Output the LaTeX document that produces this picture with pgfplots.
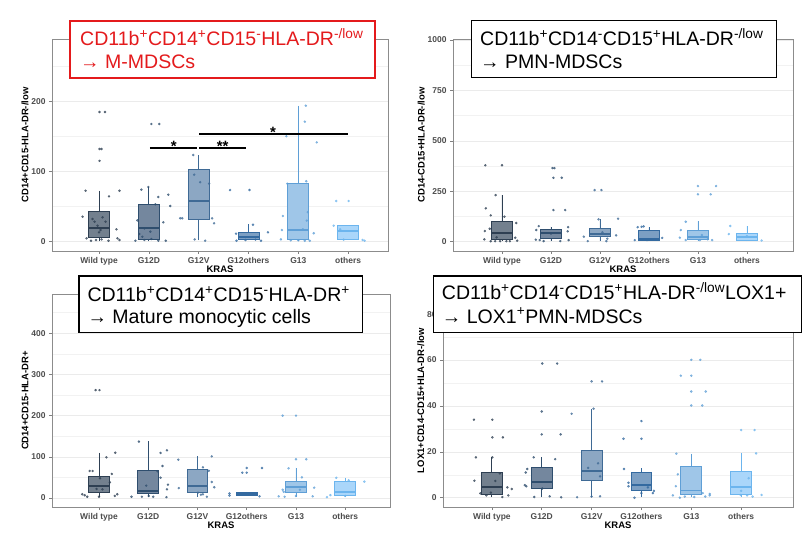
\documentclass[border=0pt]{standalone}
\usepackage{fontspec}
\setmainfont{Liberation Sans}
\usepackage{pgfplots}
\pgfplotsset{compat=1.18}
\usepgfplotslibrary{statistics}
\definecolor{L0}{HTML}{2E3F52}\definecolor{F0}{HTML}{73808E}
\definecolor{L1}{HTML}{2F4E6E}\definecolor{F1}{HTML}{74879E}
\definecolor{L2}{HTML}{3F6A95}\definecolor{F2}{HTML}{8CA7C3}
\definecolor{L3}{HTML}{346AA0}\definecolor{F3}{HTML}{7C9FC3}
\definecolor{L4}{HTML}{5F9FD6}\definecolor{F4}{HTML}{9FC6E8}
\definecolor{L5}{HTML}{6CB5EE}\definecolor{F5}{HTML}{AAD6FA}
\definecolor{tred}{HTML}{E41A1C}
\newcommand{\bx}[7]{%
 \addplot[draw=L#2, fill=F#2, line width=0.9bp, boxplot prepared={draw direction=y, draw position=#1, lower whisker=#3, lower quartile=#4, median=#5, upper quartile=#6, upper whisker=#7, box extend=0.42, whisker extend=0}] coordinates {};}
\newcommand{\pts}[2]{\addplot[only marks, mark=*, mark size=1.05bp, color=L#1, opacity=0.7] coordinates {#2};}
\newcommand{\sps}[1]{\textsuperscript{#1}}
\pgfplotsset{
 boxplot/every median/.style={line width=1.8bp},
 panel/.style={
  scale only axis, anchor=south west,
  axis line style={draw=black!45, line width=0.7bp},
  xtick={0,...,5}, xticklabels={Wild type,G12D,G12V,G12others,G13,others},
  tick style={draw=black!50, line width=0.6bp},
  major tick length=3bp, minor tick length=0pt, tick align=outside,
  xtick pos=left, ytick pos=left,
  ymajorgrids, yminorgrids,
  major grid style={draw=black!8, line width=0.6bp},
  minor grid style={draw=black!5, line width=0.5bp},
  ticklabel style={font=\bfseries\fontsize{8.5}{10}\selectfont, text=black!70},
  label style={font=\bfseries\fontsize{9.5}{10}\selectfont},
  xlabel={KRAS},
  xlabel style={yshift=6bp},
  ylabel style={yshift=-4bp},
  /pgf/number format/assume math mode=true,
  /pgf/number format/1000 sep={},
 }}
\begin{document}
\begin{tikzpicture}
% Panel 1
\begin{axis}[panel, at={(52bp,283bp)}, width=336bp, height=212bp,
 xmin=-0.944, xmax=5.80, ymin=-13.2, ymax=288.3,
 ytick={0,100,200}, minor ytick={50,150,250},
 ylabel={CD14+CD15-HLA-DR-/low}]
\bx{0}{0}{0.5}{5.7}{20}{42.7}{72.5}
\bx{1}{1}{0.5}{3.8}{19}{53.6}{77.8}
\bx{2}{2}{2}{31.3}{57.9}{102.4}{122.9}
\bx{3}{3}{2}{3.4}{6.3}{13.3}{24.7}
\bx{4}{4}{1.5}{3.4}{17}{83}{193.5}
\bx{5}{5}{3.4}{3.4}{14.8}{23.3}{23.3}
\pts{0}{(0.01,184.5)(0.12,184.5)(0.01,131.9)(0.05,131.9)(0.01,115)(-0.27,72.5)(0.41,72.5)(0.2,64.5)(-0.33,35.6)(-0.13,32.3)(-0.09,28.5)(0.07,34.7)(0.13,28.5)(-0.03,22.8)(0.03,16.6)(0,13.3)(0.35,17.6)(-0.25,4.8)(-0.16,1.4)(-0.06,2.4)(0.05,3.3)(0.19,1.4)(0.37,4.8)(0.41,2.4)}
\pts{1}{(1.05,167.4)(1.21,167.4)(0.85,74)(0.99,77.8)(1.19,63.6)(1.39,66.9)(1.13,53.2)(1.43,50.8)(1.29,27.6)(0.77,30.3)(0.91,19)(0.81,11)(0.87,7.1)(1.05,3.8)(0.73,1.4)(0.91,2.4)(1.19,1.4)(1.34,1.4)(1.03,14.3)}
\pts{2}{(1.89,123.3)(1.91,95.3)(2.03,84.6)(2.21,82.7)(1.63,33.3)(1.67,33.3)(2.27,33.3)(2.31,26.2)(1.92,3.3)(2.13,1.4)}
\pts{3}{(2.63,73.5)(3.02,73.5)(3.09,24.2)(2.75,11.4)(2.76,1.4)(2.94,2.4)(3.14,3)(3.25,1.4)(3.39,13.4)}
\pts{4}{(4.15,193.5)(4.13,170.7)(3.76,150)(4.37,141.3)(4.16,86)(3.78,82.5)(3.69,36.6)(4.17,30)(4.19,42)(3.67,16.6)(4.09,17.6)(4.31,12)(3.65,3.4)(3.85,2)(4.0,2)(4.13,1.4)(4.23,1.4)}
\pts{5}{(4.76,57.9)(5.01,57.9)(4.71,22.8)(4.84,17.6)(5.29,2.5)(5.33,1.4)(4.91,3)}
\addplot[black, line width=1.8bp] coordinates {(1.02,132.9)(1.96,132.9)};
\addplot[black, line width=1.8bp] coordinates {(2.01,132.9)(2.95,132.9)};
\addplot[black, line width=1.8bp] coordinates {(2.01,153.2)(5.0,153.2)};
\node[anchor=south, inner sep=0pt, font=\bfseries\fontsize{15}{15}\selectfont] at (axis cs:1.5,128) {*};
\node[anchor=south, inner sep=0pt, font=\bfseries\fontsize{15}{15}\selectfont] at (axis cs:2.48,128) {**};
\node[anchor=south, inner sep=0pt, font=\bfseries\fontsize{15}{15}\selectfont] at (axis cs:3.49,148) {*};
\end{axis}
% Panel 2
\begin{axis}[panel, at={(453bp,283bp)}, width=340bp, height=212bp,
 xmin=-1.0, xmax=5.94, ymin=-46, ymax=1005,
 ytick={0,250,500,750,1000}, minor ytick={125,375,625,875},
 ylabel={CD14-CD15+HLA-DR-/low}]
\bx{0}{0}{3}{11.6}{41.3}{102.6}{231.5}
\bx{1}{1}{3}{16.9}{44.6}{61.5}{74.4}
\bx{2}{2}{3}{24.8}{38}{64.5}{111}
\bx{3}{3}{3}{8.4}{14.9}{58}{71.4}
\bx{4}{4}{3}{11.6}{21.8}{54.6}{101}
\bx{5}{5}{3}{8.4}{21.8}{41.3}{77.8}
\pts{0}{(-0.34,379)(0,379)(-0.13,231)(-0.33,165.6)(0.05,124)(-0.23,130.6)(0.29,92.7)(-0.35,53)(-0.25,64.4)(0.27,19.8)(-0.36,11.9)(0.31,5)(-0.23,2.6)(-0.14,2.6)(-0.04,2.6)(0.09,2.6)(0.16,2.6)(-0.11,21.8)}
\pts{1}{(1.03,365)(1.07,365)(1.05,317)(1.22,317)(1.05,157)(1.29,157)(0.75,77.4)(0.7,58)(1.35,72)(1.34,51.6)(0.69,10)(0.77,8)(0.85,3)(1.19,3)(1.36,8)(1.0,40)}
\pts{2}{(1.89,256)(2.03,256)(1.97,111)(2.37,114)(1.67,25)(1.75,3)(2.15,15)(2.33,31.7)(2.05,46.6)(2.13,3)}
\pts{3}{(2.77,72)(2.85,74)(2.89,76)(2.71,8)(3.11,12)(3.27,19)(2.96,8)}
\pts{4}{(4,276)(4.37,276)(4,235)(4.26,235)(3.75,99)(3.65,58)(3.63,20)(3.75,8)(4.08,33)(4.2,12)(4.29,8)(4.04,8)}
\pts{5}{(4.66,78)(4.63,38)(5,28)(5.3,6)}
\end{axis}
% Panel 3
\begin{axis}[panel, at={(52bp,27bp)}, width=338bp, height=213bp,
 xmin=-0.955, xmax=5.91, ymin=-21.9, ymax=495.4,
 ytick={0,100,200,300,400}, minor ytick={50,150,250,350,450},
 ylabel={CD14+CD15-HLA-DR+}]
\bx{0}{0}{3}{13}{28.3}{53.4}{110}
\bx{1}{1}{3}{10.5}{17.8}{66.4}{137.6}
\bx{2}{2}{3}{13.8}{28.3}{69.6}{101}
\bx{3}{3}{7.3}{7.3}{10.5}{14.6}{14.6}
\bx{4}{4}{3}{13}{26}{39.7}{73.6}
\bx{5}{5}{3}{7.3}{15.4}{41.3}{49.3}
\pts{0}{(-0.07,262)(0.01,262)(0.33,110)(0.15,98.8)(-0.19,65.6)(-0.13,65.6)(0.26,58.3)(0.02,48)(0.22,38)(-0.34,9)(-0.29,6.5)(-0.24,3)(0,3)(0.32,5)(0.37,9)(-0.05,21.9)(0.07,21)}
\pts{1}{(0.81,137)(1.38,115.8)(1.25,109.3)(1.29,77.7)(1.19,64.8)(1.25,49.3)(1.4,32.4)(0.96,30)(1.38,21)(1.37,2)(0.66,3)(0.87,3)(1.01,5)(1.1,3)}
\pts{2}{(1.61,93)(2.29,101)(2.11,74.5)(2.23,66)(2.29,38.9)(2.34,26)(1.62,24)(2.01,13)(2.19,3)(2.07,8)(2.11,9)}
\pts{3}{(3.31,72.9)(3,72.9)(2.91,61.5)(3,61.5)(2.65,11)(2.65,6)(3.26,4)}
\pts{4}{(3.73,200)(4,200)(4,94)(4.21,94)(3.85,72)(4.12,50.2)(4.37,25)(3.73,20)(3.75,15)(3.65,4)(3.77,3)(4.34,4)(4.08,20)(4,5)}
\pts{5}{(4.82,49)(5.07,43)(5.39,39.7)(4.7,7)(4.63,2)(5,5)}
\end{axis}
% Panel 4
\begin{axis}[panel, at={(443bp,27bp)}, width=350bp, height=213bp,
 xmin=-0.98, xmax=6.04, ymin=-4.05, ymax=88.8,
 ytick={0,20,40,60,80}, minor ytick={10,30,50,70},
 ylabel={LOX1+CD14-CD15+HLA-DR-/low}]
\bx{0}{0}{0.3}{1.6}{4.7}{11.1}{17.6}
\bx{1}{1}{0.2}{4.2}{6.8}{13.2}{17.6}
\bx{2}{2}{0.4}{7.4}{11.6}{20.7}{38.8}
\bx{3}{3}{0.4}{3.1}{5.5}{11.2}{12.8}
\bx{4}{4}{0.3}{1.6}{3.1}{13.5}{19.2}
\bx{5}{5}{0.5}{1.6}{4.5}{11.3}{19.3}
\pts{0}{(-0.36,34)(0.01,34)(0.01,26.3)(0.22,26.3)(-0.32,17.6)(-0.35,7.4)(0.16,10.6)(0.07,7.3)(-0.23,1.9)(-0.11,1)(-0.02,2.2)(0.21,0.3)(0.33,1)(0.4,3.8)(0.31,4.5)(0.01,17.6)}
\pts{1}{(1.01,58.5)(1.31,58.5)(1,37.6)(1,27.6)(1.38,27.6)(0.84,17.6)(1.27,16.8)(0.71,12.5)(0.68,11)(0.66,5.5)(0.69,5)(0.85,0.3)(1.16,0.6)(1.39,0.2)(1.01,4)}
\pts{2}{(2,50.7)(2.21,50.7)(2.04,38.8)(1.6,36.6)(2.13,15)(1.93,13)(2.17,9.3)(1.71,0.2)(2,0.5)(2.17,0.6)}
\pts{3}{(3,33.4)(3,25.7)(2.64,25.7)(2.65,12.5)(2.74,6.5)(2.74,5)(3.13,4.5)(3.25,3)(3.23,2)(2.86,0)(3,2)}
\pts{4}{(4,60.1)(4.18,60.1)(3.79,53.2)(4,53.2)(4,46.3)(4.29,46.3)(4,40.2)(4.22,40.2)(3.7,19.2)(3.73,10.2)(3.69,5)(3.63,1)(3.77,0)(3.87,0.5)(4.06,0.3)(4.23,2)(4.28,0.5)(4.37,1.6)(4.37,1)}
\pts{5}{(5,29.5)(5.27,29.5)(5.3,19.3)(5.15,8.5)(5,3)(4.99,1.2)(5.12,1)(5.23,0.5)(5.41,1.2)}
\end{axis}
% Title boxes
\begin{scope}[every node/.style={anchor=base west, inner sep=0pt, font=\fontsize{19.6}{20}\selectfont}]
\draw[tred, line width=1.3bp, fill=white] (70bp,456bp) rectangle (375bp,513bp);
\node[text=tred] at (80bp,488.3bp) {CD11b\sps{+}CD14\sps{+}CD15\sps{-}HLA-DR\sps{-/low}};
\node[text=tred] at (80bp,465.7bp) {→ M-MDSCs};
\draw[black, line width=1.3bp, fill=white] (471.7bp,456.3bp) rectangle (776.7bp,513.3bp);
\node at (480bp,488.3bp) {CD11b\sps{+}CD14\sps{-}CD15\sps{+}HLA-DR\sps{-/low}};
\node at (480bp,465.7bp) {→ PMN-MDSCs};
\draw[black, line width=1.3bp, fill=white] (79bp,201.7bp) rectangle (362.7bp,258bp);
\node at (87.3bp,232.3bp) {CD11b\sps{+}CD14\sps{+}CD15\sps{-}HLA-DR\sps{+}};
\node at (87.3bp,210.7bp) {→ Mature monocytic cells};
\draw[black, line width=1.3bp, fill=white] (433.3bp,201.7bp) rectangle (801.7bp,258bp);
\node at (441.7bp,234bp) {CD11b\sps{+}CD14\sps{-}CD15\sps{+}HLA-DR\sps{-/low}LOX1+};
\node at (441.7bp,210.7bp) {→ LOX1\sps{+}PMN-MDSCs};
\end{scope}
\pgfresetboundingbox
\path (0bp,0bp) rectangle (809bp,534bp);
\end{tikzpicture}
\end{document}
